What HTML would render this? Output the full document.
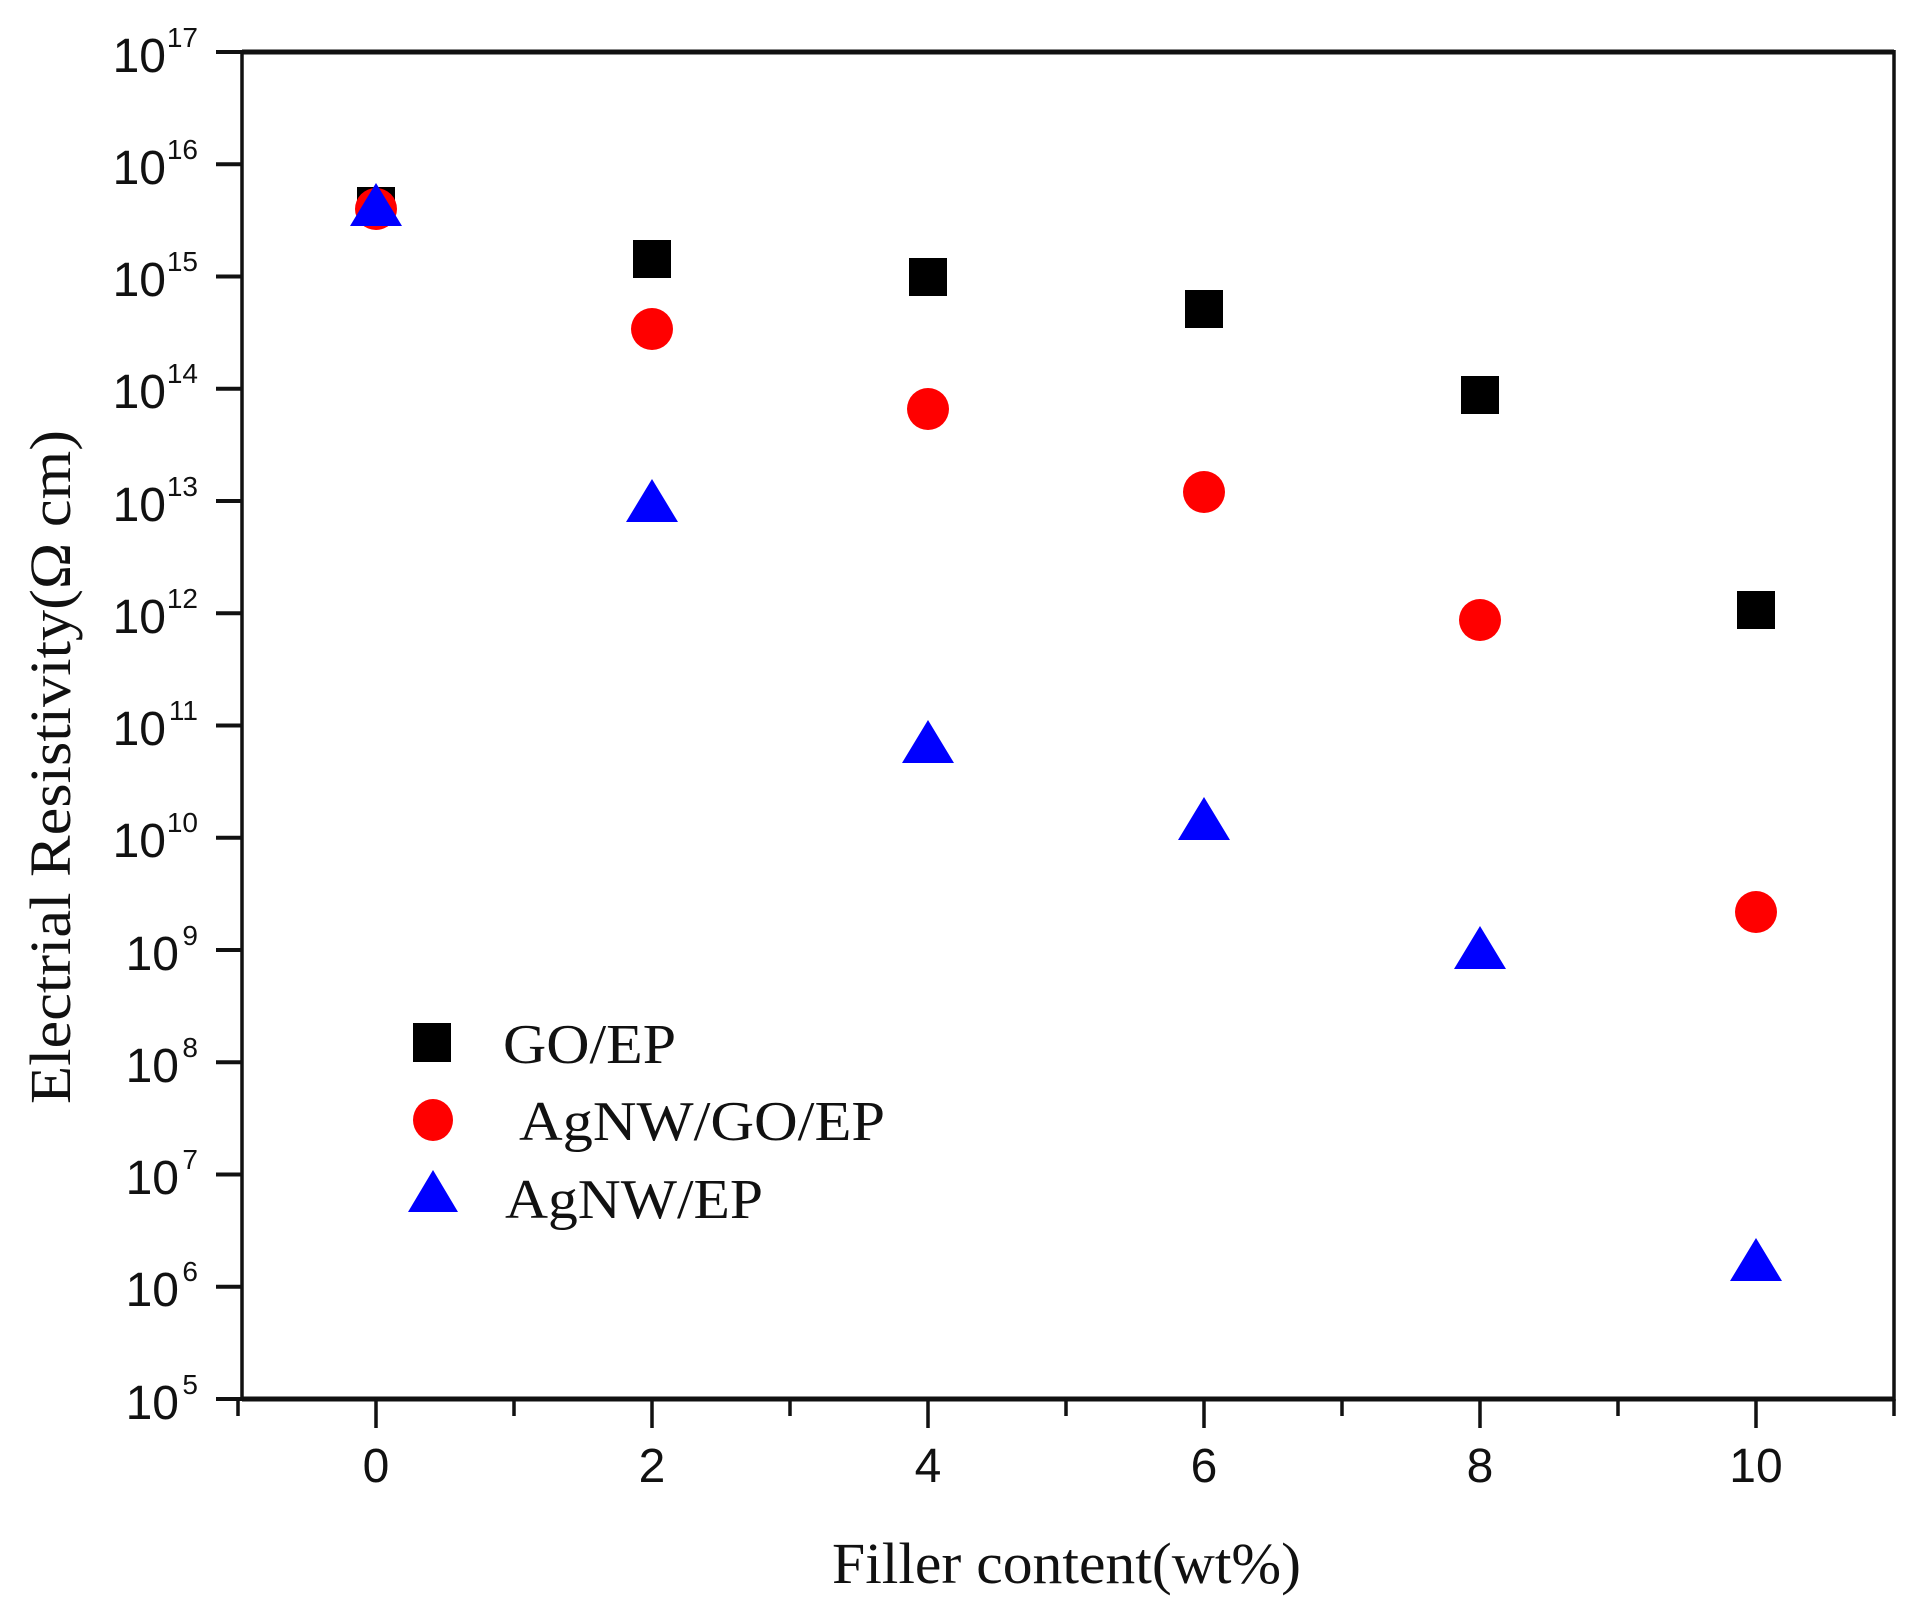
<!DOCTYPE html>
<html><head><meta charset="utf-8"><style>html,body{margin:0;padding:0;background:#fff}svg{display:block}</style></head>
<body>
<svg width="1923" height="1616" viewBox="0 0 1923 1616" xmlns="http://www.w3.org/2000/svg">
<rect width="1923" height="1616" fill="#fff"/>
<g stroke="#111" fill="none">
<line x1="242" y1="52" x2="1894" y2="52" stroke-width="5"/>
<line x1="242" y1="1399" x2="1894" y2="1399" stroke-width="5"/>
<line x1="242" y1="50" x2="242" y2="1401" stroke-width="3.5"/>
<line x1="1894" y1="50" x2="1894" y2="1401" stroke-width="3.5"/>
</g>
<g stroke="#111" stroke-width="4">
<line x1="216" y1="52" x2="242" y2="52"/><line x1="216" y1="164.25" x2="242" y2="164.25"/><line x1="216" y1="276.5" x2="242" y2="276.5"/><line x1="216" y1="388.75" x2="242" y2="388.75"/><line x1="216" y1="501" x2="242" y2="501"/><line x1="216" y1="613.25" x2="242" y2="613.25"/><line x1="216" y1="725.5" x2="242" y2="725.5"/><line x1="216" y1="837.75" x2="242" y2="837.75"/><line x1="216" y1="950" x2="242" y2="950"/><line x1="216" y1="1062.25" x2="242" y2="1062.25"/><line x1="216" y1="1174.5" x2="242" y2="1174.5"/><line x1="216" y1="1286.75" x2="242" y2="1286.75"/><line x1="216" y1="1399" x2="242" y2="1399"/>
</g>
<g stroke="#111" stroke-width="3.5">
<line x1="238" y1="1399" x2="238" y2="1416"/><line x1="376" y1="1399" x2="376" y2="1428"/><line x1="514" y1="1399" x2="514" y2="1416"/><line x1="652" y1="1399" x2="652" y2="1428"/><line x1="790" y1="1399" x2="790" y2="1416"/><line x1="928" y1="1399" x2="928" y2="1428"/><line x1="1066" y1="1399" x2="1066" y2="1416"/><line x1="1204" y1="1399" x2="1204" y2="1428"/><line x1="1342" y1="1399" x2="1342" y2="1416"/><line x1="1480" y1="1399" x2="1480" y2="1428"/><line x1="1618" y1="1399" x2="1618" y2="1416"/><line x1="1756" y1="1399" x2="1756" y2="1428"/><line x1="1894" y1="1399" x2="1894" y2="1416"/>
</g>
<g font-family="Liberation Sans, sans-serif" fill="#111">
<g font-size="48" text-anchor="end">
<text x="166" y="72">10</text><text x="166" y="184">10</text><text x="166" y="296">10</text><text x="166" y="408">10</text><text x="166" y="521">10</text><text x="166" y="633">10</text><text x="166" y="745">10</text>
<text x="166" y="857">10</text><text x="179" y="970">10</text><text x="179" y="1082">10</text><text x="179" y="1194">10</text><text x="179" y="1306">10</text><text x="179" y="1419">10</text>
</g>
<g font-size="28" text-anchor="end">
<text x="198" y="47">17</text><text x="198" y="159">16</text><text x="198" y="271">15</text><text x="198" y="383">14</text><text x="198" y="496">13</text><text x="198" y="608">12</text><text x="198" y="720">11</text><text x="198" y="832">10</text><text x="198" y="945">9</text><text x="198" y="1057">8</text><text x="198" y="1169">7</text><text x="198" y="1281">6</text><text x="198" y="1394">5</text>
</g>
<g font-size="48" text-anchor="middle">
<text x="376" y="1482">0</text><text x="652" y="1482">2</text><text x="928" y="1482">4</text><text x="1204" y="1482">6</text><text x="1480" y="1482">8</text><text x="1756" y="1482">10</text>
</g>
</g>
<g font-family="Liberation Serif, serif" fill="#111">
<text x="832" y="1583" font-size="58" textLength="469" lengthAdjust="spacingAndGlyphs">Filler content(wt%)</text>
<text transform="translate(70,1104) rotate(-90)" font-size="58" textLength="674" lengthAdjust="spacingAndGlyphs">Electrial Resistivity(Ω cm)</text>
<text x="503" y="1063" font-size="56" textLength="173" lengthAdjust="spacingAndGlyphs">GO/EP</text>
<text x="519" y="1140" font-size="56" textLength="366" lengthAdjust="spacingAndGlyphs">AgNW/GO/EP</text>
<text x="505" y="1218" font-size="56" textLength="258" lengthAdjust="spacingAndGlyphs">AgNW/EP</text>
</g>
<rect x="413" y="1023" width="38" height="39" fill="#000"/>
<ellipse cx="433" cy="1120" rx="20" ry="21" fill="#f00"/>
<polygon points="433,1170 458,1212 408,1212" fill="#00f"/>
<g fill="#000">
<rect x="357" y="187" width="38" height="38"/>
<rect x="633" y="240" width="38" height="38"/>
<rect x="909" y="258" width="38" height="38"/>
<rect x="1185" y="290" width="38" height="38"/>
<rect x="1461" y="376" width="38" height="38"/>
<rect x="1737" y="591" width="38" height="38"/>
</g>
<g fill="#f00">
<ellipse cx="376" cy="209" rx="21" ry="21"/>
<ellipse cx="652" cy="329" rx="21" ry="21"/>
<ellipse cx="928" cy="409" rx="21" ry="21"/>
<ellipse cx="1204" cy="492" rx="21" ry="21"/>
<ellipse cx="1480" cy="620" rx="21" ry="21"/>
<ellipse cx="1756" cy="912" rx="21" ry="21"/>
</g>
<g fill="#00f">
<polygon points="376,183 402,226 350,226"/>
<polygon points="652,479 678,522 626,522"/>
<polygon points="928,720 954,763 902,763"/>
<polygon points="1204,797 1230,840 1178,840"/>
<polygon points="1480,926 1506,969 1454,969"/>
<polygon points="1756,1238 1782,1281 1730,1281"/>
</g>
</svg>
</body></html>
